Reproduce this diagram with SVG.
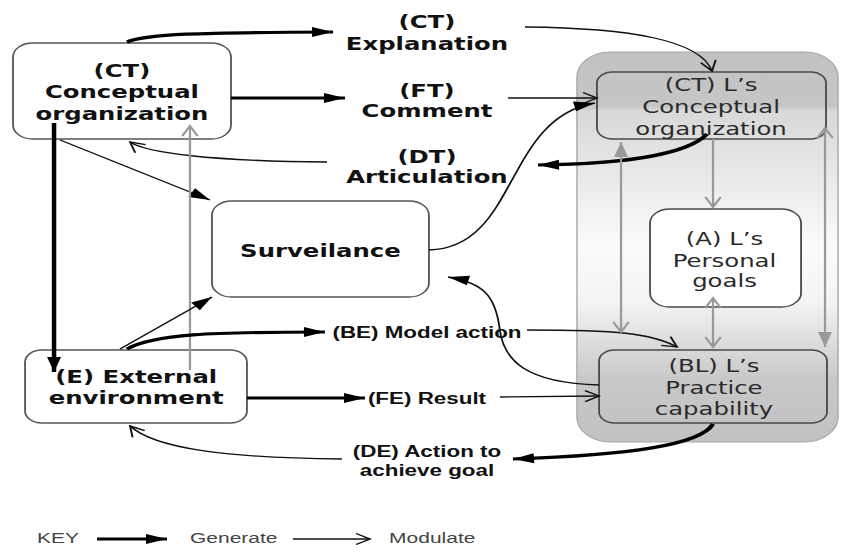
<svg xmlns="http://www.w3.org/2000/svg" width="841" height="553" viewBox="0 0 841 553">
  <style>
    .node { fill: #ffffff; stroke: #555555; stroke-width: 1.3; }
    .inner { fill: none; stroke: #4a4a4a; stroke-width: 1.3; }
    .b { font-family: "DejaVu Sans", sans-serif; font-weight: bold; font-size: 17.4px; fill: #111111; text-anchor: middle; }
    .r { font-family: "DejaVu Sans", sans-serif; font-size: 17.4px; fill: #2a2a2a; text-anchor: middle; }
    .lab { font-family: "Liberation Sans", Arial, sans-serif; font-weight: bold; font-size: 16px; fill: #111111; text-anchor: middle; }
    .key { font-family: "Liberation Sans", Arial, sans-serif; font-size: 15px; fill: #444444; }
    .thick { fill: none; stroke: #000000; stroke-width: 3.2; }
    .thin { fill: none; stroke: #111111; stroke-width: 1.3; }
    .grey { fill: none; stroke: #999999; stroke-width: 1.6; }
  </style>
  <defs>
    <linearGradient id="panel" x1="0" y1="0" x2="0" y2="1">
      <stop offset="0" stop-color="#c2c2c2"/>
      <stop offset="0.14" stop-color="#c6c6c6"/>
      <stop offset="0.15" stop-color="#d8d8d8"/>
      <stop offset="0.5" stop-color="#fbfbfb"/>
      <stop offset="0.64" stop-color="#f4f4f4"/>
      <stop offset="0.84" stop-color="#c8c8c8"/>
      <stop offset="1" stop-color="#c2c2c2"/>
    </linearGradient>
    <!-- generate: solid head -->
    <marker id="gen" markerUnits="userSpaceOnUse" markerWidth="15" markerHeight="10" refX="15" refY="5" orient="auto" overflow="visible">
      <path d="M0,0 L15,5 L0,10 z" fill="#000000"/>
    </marker>
    <marker id="gen-g" markerUnits="userSpaceOnUse" markerWidth="15" markerHeight="10" refX="15" refY="5" orient="auto" overflow="visible">
      <path d="M0,0 L15,5 L0,10 z" fill="#999999"/>
    </marker>
    <marker id="gen-gs" markerUnits="userSpaceOnUse" markerWidth="15" markerHeight="10" refX="0" refY="5" orient="auto" overflow="visible">
      <path d="M15,0 L0,5 L15,10 z" fill="#999999"/>
    </marker>
    <!-- modulate: open chevron -->
    <marker id="mod" markerUnits="userSpaceOnUse" markerWidth="10" markerHeight="11" refX="10" refY="5.5" orient="auto" overflow="visible">
      <path d="M0,0 L10,5.5 L0,11" fill="none" stroke="#111111" stroke-width="1.4"/>
    </marker>
    <marker id="mod-g" markerUnits="userSpaceOnUse" markerWidth="10" markerHeight="11" refX="10" refY="5.5" orient="auto" overflow="visible">
      <path d="M0,0 L10,5.5 L0,11" fill="none" stroke="#999999" stroke-width="1.6"/>
    </marker>
    <marker id="mod-gs" markerUnits="userSpaceOnUse" markerWidth="10" markerHeight="11" refX="0" refY="5.5" orient="auto" overflow="visible">
      <path d="M10,0 L0,5.5 L10,11" fill="none" stroke="#999999" stroke-width="1.6"/>
    </marker>
  </defs>

  <rect width="841" height="553" fill="#ffffff"/>

  <!-- drawing is laid out on a narrow grid and widened horizontally -->
  <g transform="scale(1.4,1)">

    <!-- learner panel -->
    <g id="learner-panel">
      <rect x="412.1" y="52" width="186.5" height="390" rx="24" ry="25" fill="url(#panel)" stroke="#a8a8a8" stroke-width="1"/>
    </g>

    <g id="ct-org">
      <rect class="node" x="9.3" y="43" width="155.7" height="96" rx="14"/>
      <text class="b" x="87.1" y="77">(CT)</text>
      <text class="b" x="87.1" y="98.5">Conceptual</text>
      <text class="b" x="87.1" y="120">organization</text>
    </g>

    <g id="surveillance">
      <rect class="node" x="151.4" y="201" width="155" height="96" rx="14"/>
      <text class="b" x="228.9" y="257">Surveilance</text>
    </g>

    <g id="external-env">
      <rect class="node" x="17.9" y="350" width="158.5" height="73" rx="12"/>
      <text class="b" x="97.3" y="383">(E) External</text>
      <text class="b" x="97.3" y="404">environment</text>
    </g>

    <g id="l-conceptual">
      <rect class="inner" x="426.4" y="72" width="163.6" height="67" rx="11"/>
      <text class="r" x="507.9" y="91">(CT) L’s</text>
      <text class="r" x="507.9" y="113">Conceptual</text>
      <text class="r" x="507.9" y="135">organization</text>
    </g>

    <g id="l-goals">
      <rect x="464.3" y="209" width="107.9" height="98" rx="14" fill="#ffffff" stroke="#4a4a4a" stroke-width="1.3"/>
      <text class="r" x="517.5" y="245">(A) L’s</text>
      <text class="r" x="517.5" y="267">Personal</text>
      <text class="r" x="517.5" y="287">goals</text>
    </g>

    <g id="l-practice">
      <rect class="inner" x="427.9" y="350" width="162.8" height="73" rx="11"/>
      <text class="r" x="510" y="372">(BL) L’s</text>
      <text class="r" x="510" y="394">Practice</text>
      <text class="r" x="510" y="415">capability</text>
    </g>

    <!-- connector labels -->
    <g id="labels">
      <text class="b" x="305" y="28">(CT)</text>
      <text class="b" x="305" y="50">Explanation</text>
      <text class="b" x="305" y="97">(FT)</text>
      <text class="b" x="305" y="117">Comment</text>
      <text class="b" x="305" y="163">(DT)</text>
      <text class="b" x="305" y="183">Articulation</text>
      <text class="lab" x="305" y="338">(BE) Model action</text>
      <text class="lab" x="305" y="404">(FE) Result</text>
      <text class="lab" x="305" y="457">(DE) Action to</text>
      <text class="lab" x="305" y="476">achieve goal</text>
    </g>

    <g id="connectors">
      <!-- tutor side -->
      <path class="thick" d="M90.7,42 C105,34 140,32.5 237.9,32" marker-end="url(#gen)"/>
      <path class="thin" d="M375,27 C450,28 500,40 508.6,71" marker-end="url(#mod)"/>
      <path class="thick" d="M165,98 L246.4,98" marker-end="url(#gen)"/>
      <path class="thin" d="M362.9,98 L426.4,98" marker-end="url(#mod)"/>
      <path class="thick" d="M505,134 C490,156 440,164 384.3,165" marker-end="url(#gen)"/>
      <path class="thin" d="M233.6,162 C150,161 105,153 92.9,142" marker-end="url(#mod)"/>
      <path class="thick" d="M38.6,123 L38.6,372" marker-end="url(#gen)"/>
      <path class="thin" d="M42.9,140 L150,200" marker-end="url(#gen)"/>
      <path class="grey" d="M135.7,370 L135.7,126" marker-end="url(#mod-g)"/>
      <path class="thin" d="M85.7,349 L151.4,297" marker-end="url(#gen)"/>
      <!-- environment side -->
      <path class="thick" d="M90.7,349 C110,334 150,332 232.1,332" marker-end="url(#gen)"/>
      <path class="thin" d="M376.4,330 C440,330 465,333 483.6,347" marker-end="url(#mod)"/>
      <path class="thick" d="M176.4,398 L260.7,398" marker-end="url(#gen)"/>
      <path class="thin" d="M357.1,397 L427.9,396" marker-end="url(#mod)"/>
      <path class="thick" d="M509.3,424 C500,445 450,455 366.4,459" marker-end="url(#gen)"/>
      <path class="thin" d="M244.3,459 C160,458 110,448 92.9,426" marker-end="url(#mod)"/>
      <!-- surveillance loop -->
      <path class="thin" d="M306.4,250 C370,248 360,118 425,103" marker-end="url(#gen)"/>
      <path class="thin" d="M427.9,385 C375,383 360,360 357,330 C354,295 345,283 320,277" marker-end="url(#gen)"/>
      <!-- inside the learner -->
      <path class="grey" d="M509.3,139 L509.3,207" marker-end="url(#mod-g)"/>
      <path class="grey" d="M509.3,298 L509.3,347" marker-start="url(#mod-gs)" marker-end="url(#mod-g)"/>
      <path class="grey" d="M443.6,142 L443.6,332" marker-start="url(#gen-gs)" marker-end="url(#mod-g)"/>
      <path class="grey" d="M589.3,128 L589.3,347" marker-start="url(#mod-gs)" marker-end="url(#gen-g)"/>
    </g>

    <!-- key -->
    <g id="key">
      <text class="key" x="26.4" y="543">KEY</text>
      <path class="thick" d="M69.3,539 L119.3,539" marker-end="url(#gen)"/>
      <text class="key" x="135.7" y="543">Generate</text>
      <path class="thin" d="M209.3,539 L264.3,539" marker-end="url(#mod)"/>
      <text class="key" x="277.9" y="543">Modulate</text>
    </g>
  </g>
</svg>
